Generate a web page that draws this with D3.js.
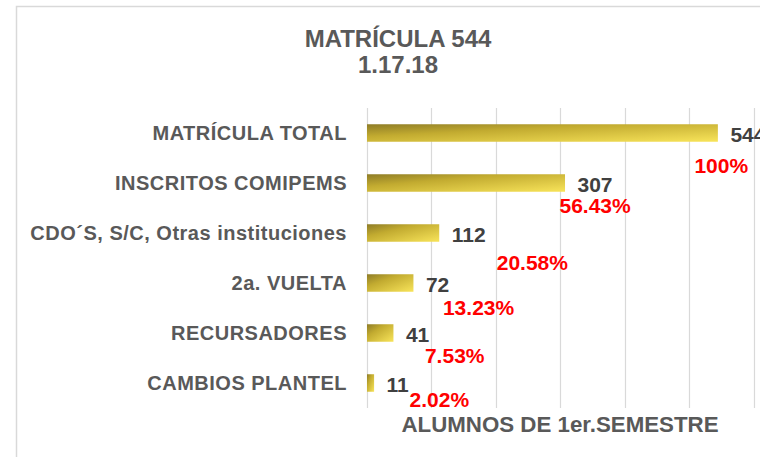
<!DOCTYPE html>
<html>
  <head>
    <meta charset="utf-8">
    <script src="https://d3js.org/d3.v7.min.js"></script>
    <style>
      body {
        margin: 0;
        background: #fff;
      }
      text {
        font-family: "Liberation Sans", Arial, sans-serif;
        font-weight: bold;
      }
    </style>
  </head>
<body>
  <script type="text/javascript">
    "use strict";

    // chart data
    var categories = ["MATRÍCULA TOTAL", "INSCRITOS COMIPEMS",
        "CDO´S, S/C, Otras instituciones", "2a. VUELTA",
        "RECURSADORES", "CAMBIOS PLANTEL"];
    var alumnos = [544, 307, 112, 72, 41, 11];
    var porcentajes = ["100%", "56.43%", "20.58%", "13.23%", "7.53%", "2.02%"];
    var xTicks = [0, 100, 200, 300, 400, 500, 600, 700];

    // the percent labels were dragged around by hand in the original
    var pctNudge = [[-23, 32], [-5, 22], [58, 29], [30, 24], [32, 22], [36, 16.5]];

    var width = 760,
        height = 457;

    var svg = d3.select("body")
        .append("svg")
        .attr("width", width)
        .attr("height", height);

    var defs = svg.append("defs");
    var grad = defs.append("linearGradient")
        .attr("id", "gold")
        .attr("x1", 0).attr("y1", 0)
        .attr("x2", 1).attr("y2", 1);
    grad.append("stop").attr("offset", "0%").attr("stop-color", "#8e7c27");
    grad.append("stop").attr("offset", "35%").attr("stop-color", "#c2ab30");
    grad.append("stop").attr("offset", "100%").attr("stop-color", "#f8e45a");

    // chart frame (runs off the right and bottom edge)
    svg.append("rect")
        .attr("x", 16.5)
        .attr("y", 6.5)
        .attr("width", 900)
        .attr("height", 600)
        .attr("fill", "#fff")
        .attr("stroke", "#d9d9d9")
        .attr("stroke-width", 1.5);

    // title
    svg.append("text")
        .attr("x", 398)
        .attr("y", 47)
        .attr("text-anchor", "middle")
        .attr("fill", "#595959")
        .style("font-size", "24px")
        .text("MATRÍCULA 544");
    svg.append("text")
        .attr("x", 398)
        .attr("y", 72.5)
        .attr("text-anchor", "middle")
        .attr("fill", "#595959")
        .style("font-size", "24px")
        .text("1.17.18");

    var x = d3.scaleLinear()
        .domain([0, 700])
        .range([366.5, 366.5 + 700 * 0.645]);

    var y = d3.scaleBand()
        .domain(categories)
        .range([108, 408])
        .paddingInner(0.65)
        .paddingOuter(0.325);

    // gridlines
    svg.append("g")
        .selectAll("line")
        .data(xTicks)
        .enter()
        .append("line")
        .attr("x1", function(d) { return Math.round(x(d)) + 0.5; })
        .attr("x2", function(d) { return Math.round(x(d)) + 0.5; })
        .attr("y1", 108)
        .attr("y2", 408)
        .attr("stroke", "#d9d9d9")
        .attr("stroke-width", 1.2);

    // bars
    svg.append("g")
        .selectAll("rect")
        .data(alumnos)
        .enter()
        .append("rect")
        .attr("x", x(0) + 0.5)
        .attr("y", function(d, i) { return y(categories[i]); })
        .attr("width", function(d) { return x(d) - x(0); })
        .attr("height", y.bandwidth())
        .attr("fill", "url(#gold)");

    // category labels
    svg.append("g")
        .selectAll("text")
        .data(categories)
        .enter()
        .append("text")
        .attr("x", 347)
        .attr("y", function(d) { return y(d) + y.bandwidth() / 2; })
        .attr("dy", "0.36em")
        .attr("text-anchor", "end")
        .attr("fill", "#595959")
        .style("font-size", "20px")
        .style("letter-spacing", "0.5px")
        .text(function(d) { return d; });

    // value labels
    svg.append("g")
        .selectAll("text")
        .data(alumnos)
        .enter()
        .append("text")
        .attr("x", function(d) { return x(d) + 13; })
        .attr("y", function(d, i) { return y(categories[i]) + y.bandwidth() / 2 + 1; })
        .attr("dy", "0.36em")
        .attr("fill", "#404040")
        .style("font-size", "21px")
        .text(function(d) { return d; });

    // percent labels
    svg.append("g")
        .selectAll("text")
        .data(porcentajes)
        .enter()
        .append("text")
        .attr("x", function(d, i) { return x(alumnos[i]) + pctNudge[i][0]; })
        .attr("y", function(d, i) { return y(categories[i]) + y.bandwidth() / 2 + pctNudge[i][1]; })
        .attr("dy", "0.36em")
        .attr("fill", "#ff0000")
        .style("font-size", "21px")
        .text(function(d) { return d; });

    // axis title
    svg.append("text")
        .attr("x", 560)
        .attr("y", 432)
        .attr("text-anchor", "middle")
        .attr("fill", "#595959")
        .style("font-size", "22.3px")
        .text("ALUMNOS DE 1er.SEMESTRE");
  </script>
</body>
</html>
